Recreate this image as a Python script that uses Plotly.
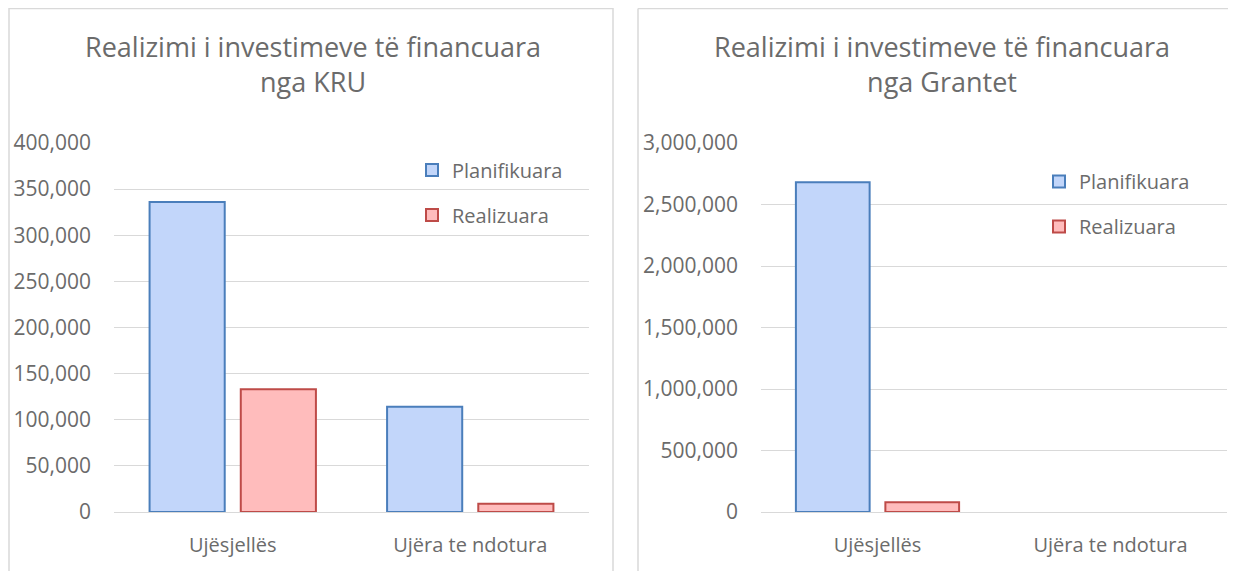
import plotly.graph_objects as go

categories = ["Ujësjellës", "Ujëra te ndotura"]
kru_planned = [336000, 114000]
kru_realized = [133000, 9000]
grant_planned = [2680000, 0]
grant_realized = [80000, 0]
kru_ticks = [0, 50000, 100000, 150000, 200000, 250000, 300000, 350000, 400000]
grant_ticks = [0, 500000, 1000000, 1500000, 2000000, 2500000, 3000000]
series_names = ["Planifikuara", "Realizuara"]
titles = ["Realizimi i investimeve të financuara<br>nga KRU",
          "Realizimi i investimeve të financuara<br>nga Grantet"]

# page body has an 8px margin; work in reference-pixel coords shifted by 8
OFF = 8
W, H = 1236 - 2 * OFF, 571 - OFF
ML, MR, MT, MB = 114 - OFF, W - (1227 - OFF), 143 - OFF, H - (512 - OFF)
PW, PH = W - ML - MR, H - MT - MB

FONT = "Open Sans"
TXT = "#6b6b6b"
GRID = "#d9d9d9"
BLUE_FILL = "#c2d6fa"
BLUE_LINE = "#4a7ebb"
RED_FILL = "#ffbcbc"
RED_LINE = "#be4b48"


def px_x(v):
    """reference pixel x -> paper fraction"""
    return (v - OFF - ML) / PW


def px_y(v):
    """reference pixel y -> paper fraction"""
    return (H - MB - (v - OFF)) / PH


def widths(vals):
    return [2 if v > 0 else 0 for v in vals]


fig = go.Figure()
fig.add_trace(go.Bar(x=categories, y=kru_planned, name=series_names[0],
                     marker=dict(color=BLUE_FILL, line=dict(color=BLUE_LINE, width=widths(kru_planned))),
                     xaxis="x", yaxis="y", legend="legend", legendgroup="a"))
fig.add_trace(go.Bar(x=categories, y=kru_realized, name=series_names[1],
                     marker=dict(color=RED_FILL, line=dict(color=RED_LINE, width=widths(kru_realized))),
                     xaxis="x", yaxis="y", legend="legend", legendgroup="b"))
fig.add_trace(go.Bar(x=categories, y=grant_planned, name=series_names[0],
                     marker=dict(color=BLUE_FILL, line=dict(color=BLUE_LINE, width=widths(grant_planned))),
                     xaxis="x2", yaxis="y2", legend="legend2", legendgroup="c"))
fig.add_trace(go.Bar(x=categories, y=grant_realized, name=series_names[1],
                     marker=dict(color=RED_FILL, line=dict(color=RED_LINE, width=widths(grant_realized))),
                     xaxis="x2", yaxis="y2", legend="legend2", legendgroup="d"))

common_x = dict(showgrid=False, showline=False, zeroline=False, ticks="",
                tickfont=dict(family=FONT, size=20, color=TXT), ticklabelstandoff=19,
                automargin=False, fixedrange=True)
common_y = dict(showgrid=True, gridcolor=GRID, gridwidth=1, zeroline=True,
                zerolinecolor=GRID, zerolinewidth=1, showline=False, ticks="",
                tickfont=dict(family=FONT, size=21, color=TXT), tickformat=",",
                ticklabelstandoff=22, domain=[0, 1], automargin=False, fixedrange=True)

legend_common = dict(font=dict(family=FONT, size=20, color=TXT), bgcolor="rgba(0,0,0,0)",
                     xanchor="left", yanchor="middle", tracegroupgap=16,
                     itemwidth=30, traceorder="grouped")

fig.update_layout(
    width=W, height=H,
    margin=dict(l=ML, r=MR, t=MT, b=MB, pad=0),
    paper_bgcolor="white", plot_bgcolor="white",
    barmode="group", bargap=0.232, bargroupgap=0.176,
    xaxis=dict(domain=[0, px_x(589)], anchor="y", **common_x),
    yaxis=dict(range=[0, 400000], tickvals=kru_ticks, anchor="x", **common_y),
    xaxis2=dict(domain=[px_x(761), 1], anchor="y2", **common_x),
    yaxis2=dict(range=[0, 3000000], tickvals=grant_ticks, anchor="x2", **common_y),
    legend=dict(x=px_x(412), y=px_y(192.5), **legend_common),
    legend2=dict(x=px_x(1039), y=px_y(204), **legend_common),
    showlegend=True,
)

fig.add_annotation(text=titles[0], x=px_x(313), y=px_y(64), xref="paper", yref="paper",
                   showarrow=False, xanchor="center", yanchor="middle",
                   font=dict(family=FONT, size=27, color=TXT))
fig.add_annotation(text=titles[1], x=px_x(942), y=px_y(64), xref="paper", yref="paper",
                   showarrow=False, xanchor="center", yanchor="middle",
                   font=dict(family=FONT, size=27, color=TXT))

# panel frames (left panel closed, right panel runs off the right edge)
border = dict(color=GRID, width=1.5)
fig.add_shape(type="rect", xref="paper", yref="paper",
              x0=px_x(9), x1=px_x(613), y0=px_y(580), y1=px_y(8.5),
              line=border, fillcolor="rgba(0,0,0,0)", layer="below")
fig.add_shape(type="line", xref="paper", yref="paper",
              x0=px_x(638), x1=px_x(638), y0=px_y(580), y1=px_y(8.5),
              line=border, layer="below")
fig.add_shape(type="line", xref="paper", yref="paper",
              x0=px_x(638), x1=px_x(1240), y0=px_y(8.5), y1=px_y(8.5),
              line=border, layer="below")

fig.write_html("out.html")
